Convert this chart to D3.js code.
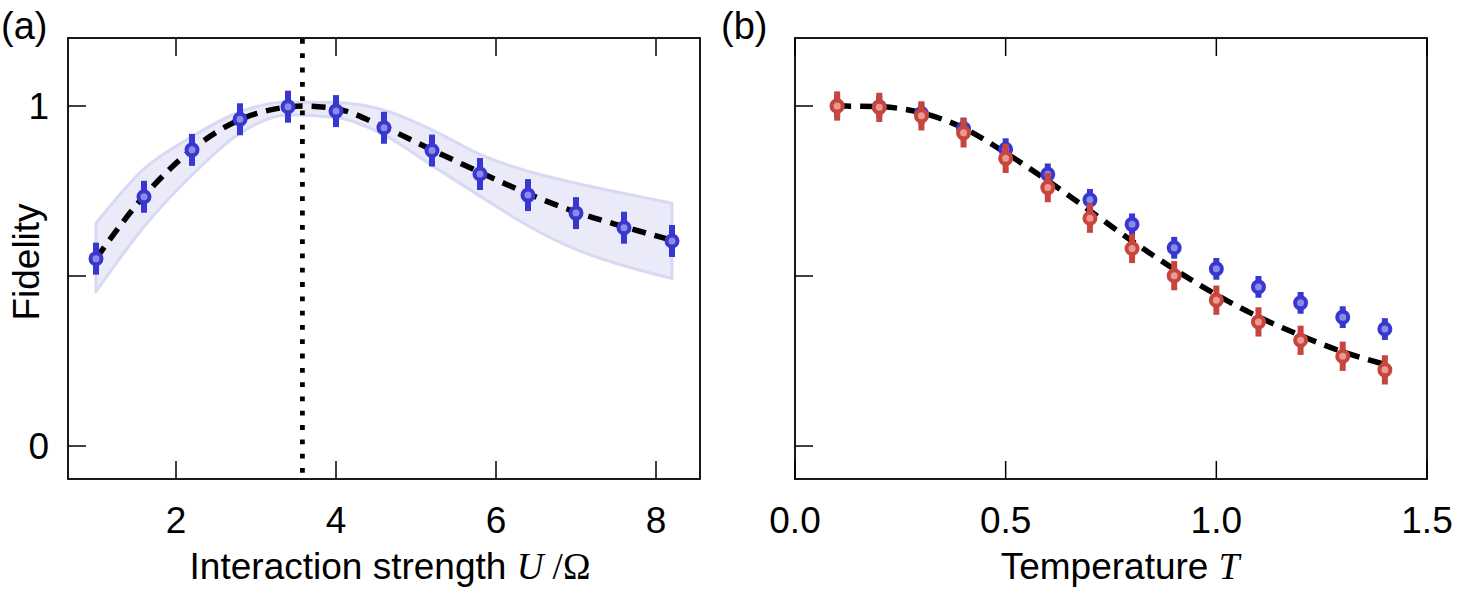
<!DOCTYPE html>
<html>
<head>
<meta charset="utf-8">
<script src="https://cdn.jsdelivr.net/npm/d3@7"></script>
<style>
  html, body { margin: 0; padding: 0; background: #fff; }
  svg { display: block; }
  text { font-family: "Liberation Sans", Arial, Helvetica, sans-serif; fill: #000; }
  .math { font-family: "Liberation Serif", "Times New Roman", serif; font-style: italic; }
  .mathUp { font-family: "Liberation Serif", "Times New Roman", serif; font-style: normal; }
</style>
</head>
<body>
<script>
// ---------- Panel (a) data ----------
const uValues   = [1.0, 1.6, 2.2, 2.8, 3.4, 4.0, 4.6, 5.2, 5.8, 6.4, 7.0, 7.6, 8.2];
const fidelityA = [0.551, 0.733, 0.871, 0.961, 0.998, 0.985, 0.936, 0.869, 0.800, 0.738, 0.685, 0.642, 0.603];
const errorA    = [0.047, 0.047, 0.047, 0.047, 0.047, 0.047, 0.047, 0.047, 0.047, 0.047, 0.047, 0.047, 0.047];
const bandUpperA = [0.655, 0.815, 0.910, 0.983, 1.012, 1.010, 0.988, 0.930, 0.858, 0.808, 0.773, 0.743, 0.714];
const bandLowerA = [0.454, 0.645, 0.797, 0.920, 0.974, 0.966, 0.915, 0.825, 0.735, 0.648, 0.578, 0.530, 0.493];
const theoryU   = [1.0, 1.6, 2.2, 2.8, 3.4, 3.58, 4.0, 4.6, 5.2, 5.8, 6.4, 7.0, 7.6, 8.2];
const theoryA   = [0.551, 0.735, 0.872, 0.960, 0.997, 1.000, 0.992, 0.938, 0.871, 0.805, 0.742, 0.688, 0.645, 0.605];
const uOptimal  = 3.58;
const xTicksA   = [2, 4, 6, 8];
const xTickLabelsA = ["2", "4", "6", "8"];

// ---------- Panel (b) data ----------
const tValues  = [0.1, 0.2, 0.3, 0.4, 0.5, 0.6, 0.7, 0.8, 0.9, 1.0, 1.1, 1.2, 1.3, 1.4];
const blueB    = [1.000, 0.998, 0.978, 0.934, 0.873, 0.799, 0.724, 0.652, 0.583, 0.521, 0.468, 0.421, 0.379, 0.344];
const blueErrB = [0.032, 0.032, 0.032, 0.032, 0.032, 0.032, 0.032, 0.032, 0.032, 0.032, 0.032, 0.032, 0.032, 0.032];
const redB     = [1.000, 0.996, 0.971, 0.921, 0.846, 0.760, 0.670, 0.581, 0.501, 0.429, 0.365, 0.311, 0.264, 0.224];
const redErrB  = [0.043, 0.043, 0.043, 0.043, 0.043, 0.043, 0.043, 0.043, 0.043, 0.043, 0.043, 0.043, 0.043, 0.043];
const theoryB  = [1.000, 0.998, 0.980, 0.935, 0.862, 0.780, 0.692, 0.603, 0.520, 0.445, 0.380, 0.325, 0.277, 0.240];
const xTicksB  = [0, 0.5, 1.0, 1.5];
const xTickLabelsB = ["0.0", "0.5", "1.0", "1.5"];

// ---------- Shared ----------
const yTicks = [0, 0.5, 1];
const yTickLabels = ["0", "", "1"];

const W = 1466, H = 598;
const svg = d3.select("body").append("svg").attr("width", W).attr("height", H);

const BLUE = "#3838d0", BLUE_FILL = "#8c8ce8";
const RED = "#c8453e", RED_FILL = "#e99a93";
const TICK_LEN = 18, FS = 37;

const yScale = d3.scaleLinear().domain([-0.097, 1.2]).range([479, 38]);
const xA = d3.scaleLinear().domain([0.65, 8.55]).range([68, 700]);
const xB = d3.scaleLinear().domain([0, 1.5]).range([795, 1427]);

function frame(g, x, xt, xtl, showYLabels) {
  const [x0, x1] = x.range();
  const [y0, y1] = yScale.range();
  g.append("g").selectAll("line").data(yTicks).join("line")
    .attr("x1", x0).attr("x2", x0 + TICK_LEN)
    .attr("y1", d => yScale(d)).attr("y2", d => yScale(d))
    .attr("stroke", "#000").attr("stroke-width", 1.5);
  if (showYLabels) {
    g.append("g").selectAll("text").data(yTicks).join("text")
      .attr("x", x0 - 19).attr("y", d => yScale(d))
      .attr("text-anchor", "end").attr("dominant-baseline", "central")
      .attr("font-size", FS).text((d, i) => yTickLabels[i]);
  }
  g.append("g").selectAll("line").data(xt).join("line")
    .attr("x1", d => x(d)).attr("x2", d => x(d))
    .attr("y1", y0).attr("y2", y0 - TICK_LEN)
    .attr("stroke", "#000").attr("stroke-width", 1.5);
  g.append("g").selectAll("line").data(xt).join("line")
    .attr("x1", d => x(d)).attr("x2", d => x(d))
    .attr("y1", y1).attr("y2", y1 + TICK_LEN)
    .attr("stroke", "#000").attr("stroke-width", 1.5);
  g.append("g").selectAll("text").data(xt).join("text")
    .attr("x", d => x(d)).attr("y", 533)
    .attr("text-anchor", "middle")
    .attr("font-size", FS).text((d, i) => xtl[i]);
  g.append("rect")
    .attr("x", x0).attr("y", y1).attr("width", x1 - x0).attr("height", y0 - y1)
    .attr("fill", "none").attr("stroke", "#000").attr("stroke-width", 1.8);
}

function points(g, x, xs, ys, errs, stroke, fill) {
  const grp = g.append("g");
  grp.selectAll("line").data(xs).join("line")
    .attr("x1", d => x(d)).attr("x2", d => x(d))
    .attr("y1", (d, i) => yScale(ys[i] - errs[i]))
    .attr("y2", (d, i) => yScale(ys[i] + errs[i]))
    .attr("stroke", stroke).attr("stroke-width", 6);
  grp.selectAll("circle").data(xs).join("circle")
    .attr("cx", d => x(d)).attr("cy", (d, i) => yScale(ys[i]))
    .attr("r", 5.5).attr("fill", fill).attr("stroke", stroke).attr("stroke-width", 4);
}

// ---------- Panel (a) ----------
const gA = svg.append("g");
const bandData = uValues.map((u, i) => ({ u, lo: bandLowerA[i], hi: bandUpperA[i] }));
const area = d3.area().x(d => xA(d.u)).y0(d => yScale(d.lo)).y1(d => yScale(d.hi)).curve(d3.curveMonotoneX);
gA.append("path").datum(bandData).attr("d", area)
  .attr("fill", "#eaeaf8").attr("stroke", "#d9d9f3").attr("stroke-width", 3).attr("stroke-linejoin", "round");

const lineA = d3.line().x(d => xA(d[0])).y(d => yScale(d[1])).curve(d3.curveMonotoneX);
gA.append("path").datum(theoryU.map((u, i) => [u, theoryA[i]])).attr("d", lineA)
  .attr("fill", "none").attr("stroke", "#000").attr("stroke-width", 5.5).attr("stroke-dasharray", "14 9");

gA.append("line")
  .attr("x1", xA(uOptimal)).attr("x2", xA(uOptimal))
  .attr("y1", yScale.range()[1] + 1).attr("y2", yScale.range()[0])
  .attr("stroke", "#000").attr("stroke-width", 4.8).attr("stroke-dasharray", "4.8 9.5");

points(gA, xA, uValues, fidelityA, errorA, BLUE, BLUE_FILL);
frame(gA, xA, xTicksA, xTickLabelsA, true);

// ---------- Panel (b) ----------
const gB = svg.append("g");
const lineB = d3.line().x(d => xB(d[0])).y(d => yScale(d[1])).curve(d3.curveMonotoneX);
gB.append("path").datum(tValues.map((t, i) => [t, theoryB[i]])).attr("d", lineB)
  .attr("fill", "none").attr("stroke", "#000").attr("stroke-width", 5.5).attr("stroke-dasharray", "14 9");
points(gB, xB, tValues, blueB, blueErrB, BLUE, BLUE_FILL);
points(gB, xB, tValues, redB, redErrB, RED, RED_FILL);
frame(gB, xB, xTicksB, xTickLabelsB, false);

// ---------- Labels ----------
svg.append("text").attr("x", 1).attr("y", 39).attr("font-size", 38).text("(a)");
svg.append("text").attr("x", 721).attr("y", 39).attr("font-size", 38).text("(b)");

svg.append("text")
  .attr("transform", "translate(39,262) rotate(-90)")
  .attr("text-anchor", "middle").attr("font-size", FS).text("Fidelity");

const tA = svg.append("text").attr("x", 390).attr("y", 579).attr("text-anchor", "middle").attr("font-size", FS);
tA.append("tspan").text("Interaction strength ");
tA.append("tspan").attr("class", "math").text("U");
tA.append("tspan").attr("class", "mathUp").text(" /Ω");

const tB = svg.append("text").attr("x", 1120).attr("y", 579).attr("text-anchor", "middle").attr("font-size", FS);
tB.append("tspan").text("Temperature ");
tB.append("tspan").attr("class", "math").text("T");
</script>
</body>
</html>
